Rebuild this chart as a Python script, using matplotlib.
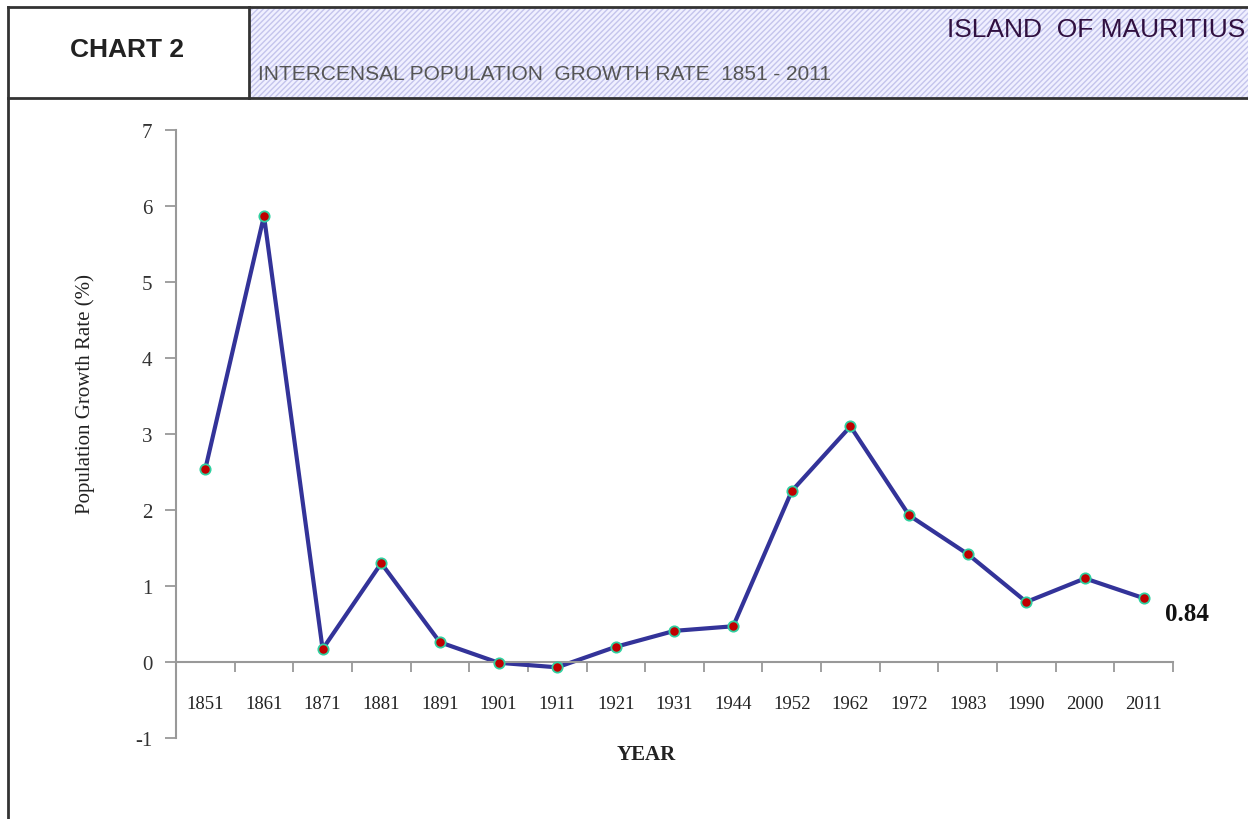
import matplotlib
matplotlib.use('Agg')
import matplotlib.pyplot as plt
from matplotlib.patches import Rectangle
from matplotlib.lines import Line2D

# data
years = ['1851', '1861', '1871', '1881', '1891', '1901', '1911', '1921', '1931',
         '1944', '1952', '1962', '1972', '1983', '1990', '2000', '2011']
growth = [2.54, 5.87, 0.17, 1.30, 0.26, -0.01, -0.07, 0.20, 0.41,
          0.47, 2.25, 3.10, 1.93, 1.42, 0.79, 1.10, 0.84]
y_ticks = [-1, 0, 1, 2, 3, 4, 5, 6, 7]

W, H = 1248, 820
fig = plt.figure(figsize=(W / 100, H / 100), dpi=100)
fig.patch.set_facecolor('white')

def fx(px):
    return px / W

def fy(py):
    return 1 - py / H

# header frame
hatch_box = Rectangle((fx(249), fy(99)), fx(1260) - fx(249), fy(8) - fy(99),
                      transform=fig.transFigure, facecolor='#f0f0ff',
                      edgecolor='#c4c4ec', hatch='//////', lw=0, zorder=0)
fig.patches.append(hatch_box)
border = dict(transform=fig.transFigure, color='#333333', lw=2)
fig.add_artist(Line2D([fx(8), 1], [fy(8), fy(8)], **border))
fig.add_artist(Line2D([fx(8), 1], [fy(99), fy(99)], **border))
fig.add_artist(Line2D([fx(8), fx(8)], [fy(8), 0], **border))
fig.add_artist(Line2D([fx(249), fx(249)], [fy(8), fy(99)], **border))

fig.text(fx(127), fy(50), 'CHART 2', ha='center', va='center', fontsize=19,
         fontweight='bold', family='Liberation Sans', color='#222222')
fig.text(fx(1245), fy(30), 'ISLAND  OF MAURITIUS', ha='right', va='center',
         fontsize=19, family='Liberation Sans', color='#301040')
fig.text(fx(258), fy(75), 'INTERCENSAL POPULATION  GROWTH RATE  1851 - 2011',
         ha='left', va='center', fontsize=15, family='Liberation Sans',
         color='#555555')

# plot area
ax = fig.add_axes([fx(176), fy(739), fx(1173) - fx(176), fy(131) - fy(739)])
x = list(range(len(years)))
ax.plot(x, growth, color='#333399', lw=3, zorder=2)
ax.scatter(x, growth, s=55, color='#c00000', edgecolor='#30d0a0', lw=1.3, zorder=3)

ax.set_xlim(-0.5, len(years) - 0.5)
ax.set_ylim(-1, 7)
ax.set_yticks(y_ticks)
ax.set_yticklabels([str(v) for v in y_ticks], family='Liberation Serif',
                   fontsize=15, color='#333333')
ax.tick_params(axis='y', length=8, width=1.3, color='#999999', pad=9)

ax.spines['top'].set_visible(False)
ax.spines['right'].set_visible(False)
ax.spines['left'].set_color('#999999')
ax.spines['left'].set_linewidth(1.5)
ax.spines['bottom'].set_color('#999999')
ax.spines['bottom'].set_linewidth(1.5)
ax.spines['bottom'].set_position(('data', 0))

ax.set_xticks([i + 0.5 for i in range(len(years))], minor=True)
ax.set_xticks(x)
ax.set_xticklabels(years, family='Liberation Serif', fontsize=13.5, color='#222222')
ax.tick_params(axis='x', which='major', length=0, pad=24)
ax.tick_params(axis='x', which='minor', length=7, width=1.3, color='#999999')
ax.patch.set_alpha(0)

ax.text(len(years) - 1 + 0.37, growth[-1] - 0.05, '0.84', ha='left', va='top',
        fontsize=18, fontweight='bold', family='Liberation Serif', color='#111111')

fig.text(fx(646), fy(755), 'YEAR', ha='center', va='center', fontsize=15,
         fontweight='bold', family='Liberation Serif', color='#222222')
fig.text(fx(85), fy(394), 'Population Growth Rate (%)', ha='center', va='center',
         rotation=90, fontsize=15, family='Liberation Serif', color='#222222')

fig.savefig('out.png', dpi=100)
